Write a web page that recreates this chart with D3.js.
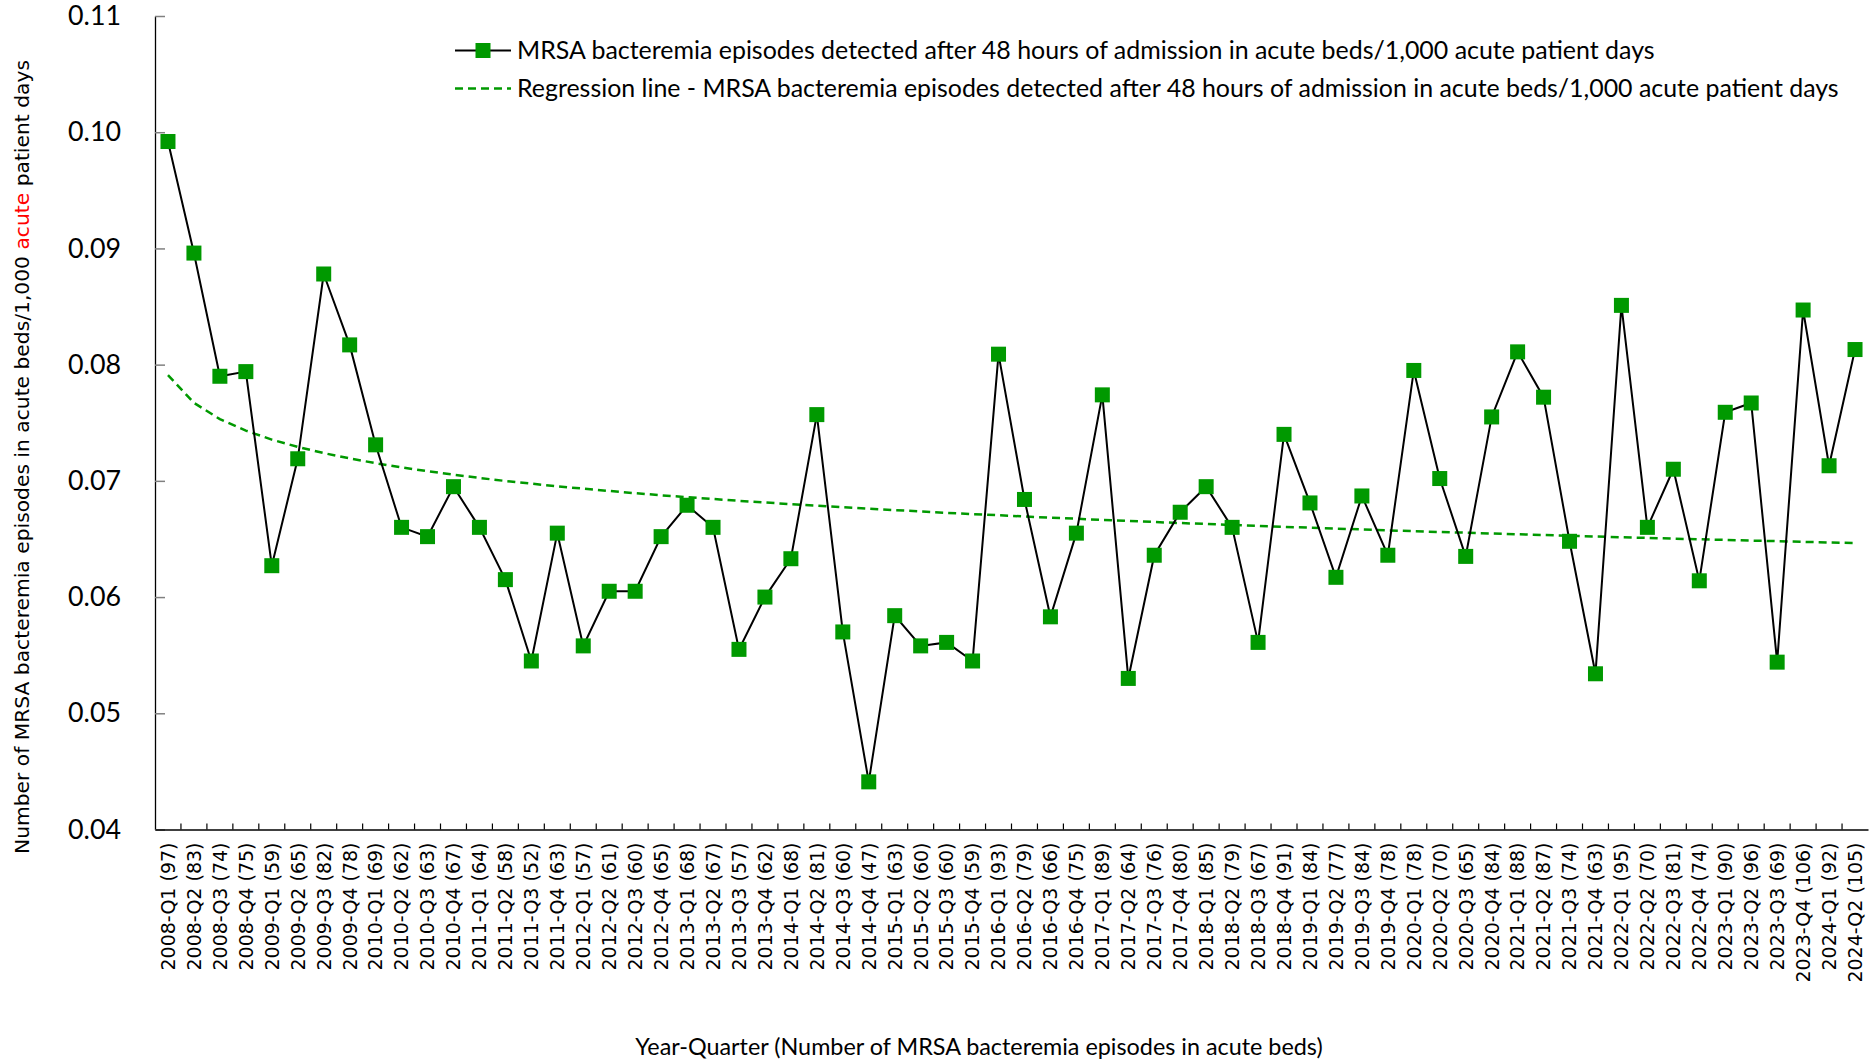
<!DOCTYPE html>
<html><head><meta charset="utf-8">
<script src="https://cdn.jsdelivr.net/npm/d3@7/dist/d3.min.js"></script>
<style>body{margin:0;background:#fff}svg{display:block}</style>
</head><body>
<svg id="c" width="1875" height="1061"></svg>
<script>
const quarters = ["2008-Q1","2008-Q2","2008-Q3","2008-Q4","2009-Q1","2009-Q2","2009-Q3","2009-Q4",
"2010-Q1","2010-Q2","2010-Q3","2010-Q4","2011-Q1","2011-Q2","2011-Q3","2011-Q4",
"2012-Q1","2012-Q2","2012-Q3","2012-Q4","2013-Q1","2013-Q2","2013-Q3","2013-Q4",
"2014-Q1","2014-Q2","2014-Q3","2014-Q4","2015-Q1","2015-Q2","2015-Q3","2015-Q4",
"2016-Q1","2016-Q2","2016-Q3","2016-Q4","2017-Q1","2017-Q2","2017-Q3","2017-Q4",
"2018-Q1","2018-Q2","2018-Q3","2018-Q4","2019-Q1","2019-Q2","2019-Q3","2019-Q4",
"2020-Q1","2020-Q2","2020-Q3","2020-Q4","2021-Q1","2021-Q2","2021-Q3","2021-Q4",
"2022-Q1","2022-Q2","2022-Q3","2022-Q4","2023-Q1","2023-Q2","2023-Q3","2023-Q4",
"2024-Q1","2024-Q2"];
const episodes = [97,83,74,75, 59,65,82,78, 69,62,63,67, 64,58,52,63,
57,61,60,65, 68,67,57,62, 68,81,60,47, 63,60,60,59,
93,79,66,75, 89,64,76,80, 85,79,67,91, 84,77,84,78,
78,70,65,84, 88,87,74,63, 95,70,81,74, 90,96,69,106,
92,105];
const rates = [0.0992,0.0896,0.0790,0.0794, 0.0627,0.0719,0.0878,0.0817,
0.0731,0.0660,0.0652,0.0695, 0.0660,0.0615,0.0545,0.0655,
0.0558,0.0605,0.0605,0.0652, 0.0679,0.0660,0.0555,0.0600,
0.0633,0.0757,0.0570,0.0441, 0.0584,0.0558,0.0561,0.0545,
0.0809,0.0684,0.0583,0.0655, 0.0774,0.0530,0.0636,0.0673,
0.0695,0.0660,0.0561,0.0740, 0.0681,0.0617,0.0687,0.0636,
0.0795,0.0702,0.0635,0.0755, 0.0811,0.0772,0.0648,0.0534,
0.0851,0.0660,0.0710,0.0614, 0.0759,0.0767,0.0544,0.0847,
0.0713,0.0813];
const trend = [0.07910,0.07671,0.07531,0.07432,0.07355,0.07292,0.07239,0.07193,
0.07152,0.07116,0.07083,0.07053,0.07025,0.06999,0.06976,0.06953,
0.06933,0.06913,0.06894,0.06876,0.06860,0.06844,0.06828,0.06814,
0.06799,0.06786,0.06773,0.06760,0.06748,0.06737,0.06725,0.06714,
0.06704,0.06693,0.06683,0.06674,0.06664,0.06655,0.06646,0.06637,
0.06629,0.06620,0.06612,0.06604,0.06597,0.06589,0.06582,0.06574,
0.06567,0.06560,0.06554,0.06547,0.06540,0.06534,0.06527,0.06521,
0.06515,0.06509,0.06503,0.06497,0.06492,0.06486,0.06481,0.06475,
0.06470,0.06465];
const yTicks = [0.04,0.05,0.06,0.07,0.08,0.09,0.10,0.11];
const seriesName = "MRSA bacteremia episodes detected after 48 hours of admission in acute beds/1,000 acute patient days";
const trendName = "Regression line - MRSA bacteremia episodes detected after 48 hours of admission in acute beds/1,000 acute patient days";
const xTitle = "Year-Quarter (Number of MRSA bacteremia episodes in acute beds)";

const labels = quarters.map((q,i)=>`${q} (${episodes[i]})`);
const GREEN = "#009900";
const svg = d3.select("#c");
const L=155, R=1868, T=16, B=829.5;
const x = d3.scaleBand().domain(labels).range([L,R]);
const cx = i => x(labels[i]) + x.bandwidth()/2;
const y = d3.scaleLinear().domain([0.04,0.11]).range([B,T]);

function fit(sel, target){
  const w = sel.node().getComputedTextLength();
  const fs = parseFloat(sel.attr("font-size"));
  sel.attr("font-size", fs*target/w);
}

// Y axis
const ya = svg.append("g").attr("transform",`translate(${L},0)`)
  .call(d3.axisLeft(y).tickValues(yTicks).tickFormat(d3.format(".2f")).tickSizeInner(-10).tickSizeOuter(0).tickPadding(34));
ya.select(".domain").attr("stroke","#000").attr("stroke-width",1.3);
ya.selectAll(".tick line").attr("stroke","#808080").attr("stroke-width",1.5);
ya.selectAll(".tick text").attr("font-family","Lato, 'Open Sans', sans-serif").attr("font-size",26).attr("fill","#000");
{
  const t0 = ya.select(".tick text");
  const w = t0.node().getComputedTextLength();
  ya.selectAll(".tick text").attr("font-size", 26*53/w);
}

// X axis
const xa = svg.append("g").attr("transform",`translate(0,${B})`)
  .call(d3.axisBottom(x).tickSize(0).tickSizeOuter(0).tickPadding(0));
xa.select(".domain").attr("stroke","#000").attr("stroke-width",1.3);
xa.selectAll(".tick text")
  .attr("font-family","'DejaVu Sans', Verdana, sans-serif").attr("font-size",19).attr("fill","#000")
  .attr("transform","rotate(-90)").attr("text-anchor","end").attr("x",-13).attr("y",0).attr("dy","0.36em");
// boundary ticks
svg.append("g").selectAll("line").data(labels.slice(1)).join("line")
  .attr("x1",d=>x(d)).attr("x2",d=>x(d)).attr("y1",B).attr("y2",B-6)
  .attr("stroke","#000").attr("stroke-width",1.2);

// Trend line
svg.append("path").datum(trend)
  .attr("d", d3.line().x((d,i)=>cx(i)).y(d=>y(d)))
  .attr("fill","none").attr("stroke",GREEN).attr("stroke-width",2.5).attr("stroke-dasharray","8,5");

// Data line
svg.append("path").datum(rates)
  .attr("d", d3.line().x((d,i)=>cx(i)).y(d=>y(d)))
  .attr("fill","none").attr("stroke","#000").attr("stroke-width",2);
const M=15;
svg.append("g").selectAll("rect").data(rates).join("rect")
  .attr("x",(d,i)=>cx(i)-M/2).attr("y",d=>y(d)-M/2).attr("width",M).attr("height",M).attr("fill",GREEN);

// Legend
const lg = svg.append("g");
lg.append("line").attr("x1",455).attr("x2",511).attr("y1",50.5).attr("y2",50.5).attr("stroke","#000").attr("stroke-width",2);
lg.append("rect").attr("x",483-M/2).attr("y",50.5-M/2).attr("width",M).attr("height",M).attr("fill",GREEN);
lg.append("line").attr("x1",455).attr("x2",511).attr("y1",88.5).attr("y2",88.5).attr("stroke",GREEN).attr("stroke-width",2.5).attr("stroke-dasharray","8,5");
const lt1 = lg.append("text").attr("x",517).attr("y",50.5).attr("dy","0.35em")
  .attr("font-family","Lato, 'Open Sans', sans-serif").attr("font-size",23).attr("fill","#000").text(seriesName);
fit(lt1,1138);
const lt2 = lg.append("text").attr("x",517).attr("y",88.5).attr("dy","0.35em")
  .attr("font-family","Lato, 'Open Sans', sans-serif").attr("font-size",23).attr("fill","#000").text(trendName);
fit(lt2,1322);

// X title
const xt = svg.append("text").attr("x",979).attr("y",1047).attr("dy","0.35em").attr("text-anchor","middle")
  .attr("font-family","Lato, 'Open Sans', sans-serif").attr("font-size",22).attr("fill","#000").text(xTitle);
fit(xt,688);

// Y title
const yt = svg.append("text").attr("transform","translate(22,457) rotate(-90)").attr("text-anchor","middle").attr("dy","0.35em")
  .attr("font-family","'DejaVu Sans', Verdana, sans-serif").attr("font-size",18).attr("fill","#000");
yt.append("tspan").text("Number of MRSA bacteremia episodes in acute beds/1,000 ");
yt.append("tspan").attr("fill","#ff0000").text("acute");
yt.append("tspan").text(" patient days");
fit(yt,794);
</script>
</body></html>
